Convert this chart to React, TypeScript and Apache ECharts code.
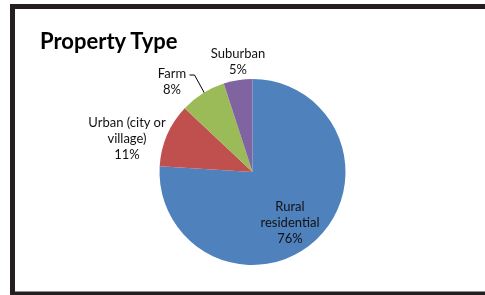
import React, { useEffect, useRef } from "react";
import * as echarts from "echarts";

const categories = ["Rural residential", "Urban (city or village)", "Farm", "Suburban"];
const labelNames = ["Rural\nresidential", "Urban (city or\nvillage)", "Farm", "Suburban"];
const values = [76, 11, 8, 5];
const colors = ["#4F81BD", "#C0504D", "#9BBB59", "#8064A2"];
const titleText = "Property Type";

const CENTER: [number, number] = [252.5, 172];
const RADIUS = 93;
// label block centres (layout)
const LABEL_POS: [number, number][] = [
  [290, 222],
  [127, 138],
  [172, 81],
  [238, 61],
];

export default function App() {
  const ref = useRef<HTMLDivElement>(null);
  useEffect(() => {
    if (!ref.current) return;
    const chart = echarts.init(ref.current, null, { renderer: "svg" });
    const total = values.reduce((a, b) => a + b, 0);
    let cum = 0;
    const mids: number[] = values.map((v) => {
      const m = cum + v / 2;
      cum += v;
      return (m / total) * 2 * Math.PI;
    });
    const edge = (i: number): [number, number] => [
      CENTER[0] + RADIUS * Math.sin(mids[i]),
      CENTER[1] - RADIUS * Math.cos(mids[i]),
    ];
    chart.setOption({
      animation: false,
      title: {
        text: titleText,
        left: 35,
        top: 24,
        textStyle: { fontFamily: "Lato", fontWeight: "bold", fontSize: 22, color: "#000" },
      },
      graphic: [
        {
          type: "rect",
          shape: { x: 12.5, y: 6.5, width: 520, height: 287.5 },
          style: { fill: "none", stroke: "#231f20", lineWidth: 5 },
          silent: true,
        },
      ],
      series: [
        {
          type: "pie",
          center: CENTER,
          radius: RADIUS,
          startAngle: 90,
          clockwise: true,
          label: {
            show: true,
            formatter: (p: any) => `${labelNames[p.dataIndex]}\n${p.percent}%`,
            fontFamily: "Lato",
            fontSize: 13,
            lineHeight: 16,
            color: "#111",
            align: "center",
          },
          labelLine: { show: false },
          labelLayout: (p: any) => {
            const i = p.dataIndex;
            const res: any = {
              x: LABEL_POS[i][0],
              y: LABEL_POS[i][1],
              align: "center",
              verticalAlign: "middle",
            };
            if (i === 2) {
              const e = edge(2);
              res.labelLinePoints = [
                [e[0] + 2, e[1]],
                [194.5, 75],
                [189.5, 75],
              ];
            }
            return res;
          },
          data: categories.map((name, i) => ({
            name,
            value: values[i],
            itemStyle: { color: colors[i] },
            label: i === 0 ? { position: "inside" } : { position: "outside" },
            labelLine:
              i === 2
                ? { show: true, lineStyle: { color: "#000", width: 1 } }
                : { show: false },
          })),
        },
      ],
    });
    return () => chart.dispose();
  }, []);
  return (
    <div
      ref={ref}
      style={{ position: "fixed", left: 0, top: 0, width: 485, height: 295 }}
    />
  );
}
